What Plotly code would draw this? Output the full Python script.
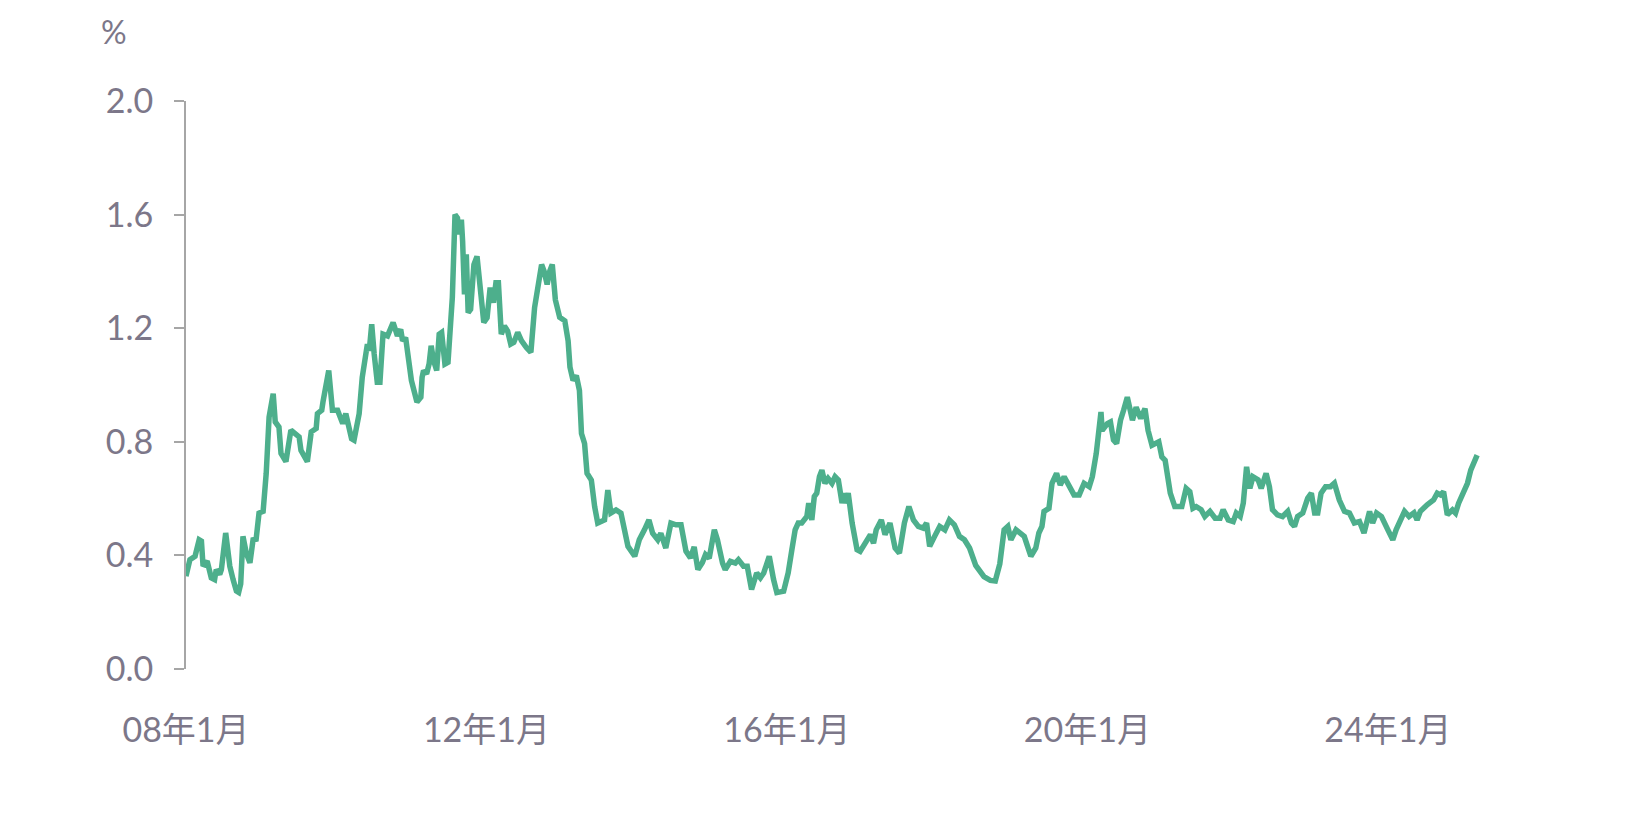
"""Line chart: ratio (%) from 2008 to 2025, recreated with Plotly."""

import plotly.graph_objects as go

# --- Data -------------------------------------------------------------------

dates = [
    "2008-01-01", "2008-01-20", "2008-02-14", "2008-03-05", "2008-03-16", "2008-03-24",
    "2008-04-13", "2008-05-03", "2008-05-19", "2008-05-27", "2008-06-13", "2008-06-21",
    "2008-07-12", "2008-08-01", "2008-08-17", "2008-09-02", "2008-09-13", "2008-09-23",
    "2008-10-04", "2008-10-20", "2008-11-07", "2008-11-22", "2008-12-07", "2008-12-21",
    "2009-01-10", "2009-01-25", "2009-02-08", "2009-02-28", "2009-03-10", "2009-03-28",
    "2009-04-07", "2009-05-01", "2009-05-25", "2009-06-10", "2009-07-04", "2009-07-13",
    "2009-07-28", "2009-08-13", "2009-09-01", "2009-09-25", "2009-10-01", "2009-10-22",
    "2009-10-28", "2009-11-25", "2009-12-13", "2010-01-07", "2010-02-01", "2010-02-16",
    "2010-03-16", "2010-03-28", "2010-04-22", "2010-05-07", "2010-05-22", "2010-06-01",
    "2010-06-10", "2010-06-22", "2010-07-04", "2010-07-19", "2010-08-01", "2010-08-16",
    "2010-09-07", "2010-09-22", "2010-10-04", "2010-10-25", "2010-11-10", "2010-11-19",
    "2010-12-04", "2010-12-19", "2011-01-01", "2011-01-28", "2011-02-16", "2011-02-22",
    "2011-03-01", "2011-03-16", "2011-03-28", "2011-04-07", "2011-04-19", "2011-05-04",
    "2011-05-16", "2011-05-28", "2011-06-13", "2011-06-28", "2011-07-07", "2011-07-19",
    "2011-08-01", "2011-08-13", "2011-08-22", "2011-09-01", "2011-09-07", "2011-09-16",
    "2011-09-25", "2011-10-04", "2011-10-16", "2011-11-01", "2011-11-16", "2011-12-01",
    "2011-12-19", "2012-01-04", "2012-01-19", "2012-02-04", "2012-02-16", "2012-02-28",
    "2012-03-13", "2012-03-28", "2012-04-13", "2012-04-28", "2012-05-13", "2012-06-01",
    "2012-06-19", "2012-07-13", "2012-08-04", "2012-08-22", "2012-09-07", "2012-09-25",
    "2012-10-07", "2012-10-22", "2012-11-04", "2012-11-16", "2012-12-01", "2012-12-22",
    "2013-01-16", "2013-02-01", "2013-02-10", "2013-02-25", "2013-03-13", "2013-03-28",
    "2013-04-07", "2013-04-22", "2013-05-04", "2013-05-25", "2013-06-10", "2013-06-25",
    "2013-07-28", "2013-08-13", "2013-08-28", "2013-09-22", "2013-10-16", "2013-11-04",
    "2013-11-19", "2013-12-22", "2014-01-13", "2014-02-07", "2014-03-01", "2014-03-19",
    "2014-04-13", "2014-04-28", "2014-05-22", "2014-06-16", "2014-07-10", "2014-08-04",
    "2014-08-28", "2014-09-19", "2014-10-07", "2014-10-25", "2014-11-16", "2014-12-01",
    "2014-12-19", "2015-01-13", "2015-01-28", "2015-02-22", "2015-03-07", "2015-04-01",
    "2015-04-25", "2015-05-10", "2015-06-04", "2015-06-22", "2015-07-13", "2015-08-07",
    "2015-08-25", "2015-09-10", "2015-10-07", "2015-10-28", "2015-11-13", "2015-12-16",
    "2016-01-07", "2016-01-25", "2016-02-10", "2016-02-25", "2016-03-13", "2016-04-07",
    "2016-04-16", "2016-05-01", "2016-05-13", "2016-05-25", "2016-06-07", "2016-06-19",
    "2016-07-04", "2016-07-19", "2016-08-07", "2016-08-22", "2016-09-07", "2016-09-25",
    "2016-10-04", "2016-10-10", "2016-10-25", "2016-11-13", "2016-12-07", "2016-12-22",
    "2017-01-16", "2017-02-10", "2017-02-25", "2017-03-10", "2017-04-04", "2017-04-22",
    "2017-05-16", "2017-06-10", "2017-07-01", "2017-07-25", "2017-08-16", "2017-09-07",
    "2017-10-01", "2017-10-25", "2017-11-10", "2017-11-25", "2017-12-19", "2018-01-13",
    "2018-02-07", "2018-03-01", "2018-03-25", "2018-04-19", "2018-05-13", "2018-06-07",
    "2018-07-07", "2018-08-16", "2018-09-16", "2018-10-10", "2018-11-01", "2018-11-22",
    "2018-12-10", "2018-12-25", "2019-01-19", "2019-02-13", "2019-02-28", "2019-03-16",
    "2019-04-01", "2019-04-25", "2019-05-10", "2019-05-25", "2019-06-04", "2019-06-28",
    "2019-07-13", "2019-08-04", "2019-08-22", "2019-09-10", "2019-10-04", "2019-10-28",
    "2019-11-22", "2019-12-16", "2020-01-10", "2020-01-25", "2020-02-13", "2020-02-28",
    "2020-03-07", "2020-03-13", "2020-04-07", "2020-04-22", "2020-05-07", "2020-05-22",
    "2020-06-10", "2020-06-25", "2020-07-13", "2020-08-07", "2020-08-25", "2020-09-16",
    "2020-10-07", "2020-10-22", "2020-11-10", "2020-12-13", "2020-12-28", "2021-01-13",
    "2021-02-07", "2021-03-01", "2021-04-04", "2021-04-25", "2021-05-13", "2021-05-28",
    "2021-06-13", "2021-07-07", "2021-07-25", "2021-08-19", "2021-09-13", "2021-10-07",
    "2021-10-22", "2021-11-16", "2021-12-10", "2021-12-25", "2022-01-13", "2022-01-28",
    "2022-02-13", "2022-03-01", "2022-03-16", "2022-04-10", "2022-04-25", "2022-05-19",
    "2022-06-04", "2022-06-19", "2022-07-13", "2022-08-07", "2022-09-01", "2022-09-19",
    "2022-10-04", "2022-10-19", "2022-11-13", "2022-12-07", "2022-12-25", "2023-01-10",
    "2023-01-25", "2023-02-10", "2023-03-04", "2023-03-28", "2023-04-16", "2023-05-10",
    "2023-06-04", "2023-06-28", "2023-07-22", "2023-08-16", "2023-09-07", "2023-10-04",
    "2023-10-19", "2023-11-07", "2023-12-01", "2024-01-01", "2024-01-25", "2024-02-10",
    "2024-03-04", "2024-03-22", "2024-04-13", "2024-05-07", "2024-05-22", "2024-06-07",
    "2024-07-10", "2024-08-10", "2024-08-28", "2024-09-13", "2024-09-28", "2024-10-16",
    "2024-11-10", "2024-11-25", "2024-12-10", "2025-01-04", "2025-01-22", "2025-02-07",
    "2025-02-19", "2025-03-01", "2025-03-10",
]

values = [
    0.327, 0.385, 0.397, 0.455, 0.450, 0.362,
    0.380, 0.321, 0.315, 0.350, 0.333, 0.350,
    0.479, 0.362, 0.315, 0.275, 0.270, 0.300,
    0.467, 0.408, 0.374, 0.455, 0.457, 0.549,
    0.555, 0.689, 0.887, 0.969, 0.870, 0.852,
    0.759, 0.730, 0.841, 0.829, 0.817, 0.770,
    0.752, 0.730, 0.835, 0.847, 0.899, 0.911,
    0.940, 1.051, 0.911, 0.911, 0.864, 0.899,
    0.811, 0.806, 0.899, 1.027, 1.097, 1.144,
    1.121, 1.214, 1.109, 1.010, 1.010, 1.179,
    1.173, 1.202, 1.220, 1.173, 1.196, 1.156,
    1.167, 1.086, 1.016, 0.940, 0.957, 1.027,
    1.051, 1.039, 1.074, 1.138, 1.086, 1.051,
    1.179, 1.185, 1.074, 1.080, 1.202, 1.308,
    1.600, 1.588, 1.530, 1.582, 1.507, 1.319,
    1.460, 1.255, 1.267, 1.424, 1.453, 1.343,
    1.220, 1.237, 1.343, 1.290, 1.360, 1.360,
    1.179, 1.208, 1.190, 1.144, 1.150, 1.185,
    1.156, 1.132, 1.115, 1.273, 1.354, 1.424,
    1.401, 1.354, 1.401, 1.424, 1.300, 1.238,
    1.226, 1.156, 1.063, 1.016, 1.033, 0.981,
    0.829, 0.794, 0.689, 0.665, 0.572, 0.514,
    0.525, 0.630, 0.549, 0.560, 0.549, 0.490,
    0.432, 0.397, 0.455, 0.490, 0.525, 0.478,
    0.455, 0.478, 0.426, 0.514, 0.508, 0.508,
    0.415, 0.391, 0.430, 0.350, 0.375, 0.403,
    0.390, 0.490, 0.455, 0.373, 0.350, 0.379,
    0.373, 0.385, 0.362, 0.362, 0.280, 0.338,
    0.321, 0.338, 0.397, 0.315, 0.269, 0.274,
    0.338, 0.420, 0.490, 0.514, 0.514, 0.537,
    0.584, 0.525, 0.607, 0.619, 0.677, 0.700,
    0.654, 0.671, 0.654, 0.677, 0.665, 0.584,
    0.619, 0.584, 0.619, 0.514, 0.420, 0.414,
    0.443, 0.473, 0.443, 0.490, 0.525, 0.473,
    0.514, 0.426, 0.408, 0.514, 0.572, 0.525,
    0.502, 0.496, 0.514, 0.432, 0.467, 0.502,
    0.490, 0.525, 0.508, 0.467, 0.455, 0.426,
    0.365, 0.325, 0.312, 0.310, 0.370, 0.490,
    0.502, 0.455, 0.490, 0.473, 0.467, 0.432,
    0.397, 0.426, 0.479, 0.502, 0.555, 0.566,
    0.654, 0.689, 0.648, 0.677, 0.648, 0.613,
    0.613, 0.654, 0.642, 0.677, 0.759, 0.852,
    0.905, 0.840, 0.864, 0.870, 0.806, 0.794,
    0.876, 0.911, 0.957, 0.876, 0.922, 0.882,
    0.917, 0.840, 0.788, 0.800, 0.747, 0.735,
    0.619, 0.572, 0.572, 0.636, 0.624, 0.566,
    0.572, 0.561, 0.537, 0.555, 0.531, 0.531,
    0.561, 0.525, 0.519, 0.549, 0.537, 0.584,
    0.712, 0.636, 0.677, 0.666, 0.636, 0.689,
    0.642, 0.561, 0.543, 0.537, 0.555, 0.514,
    0.502, 0.537, 0.549, 0.601, 0.619, 0.549,
    0.549, 0.619, 0.642, 0.642, 0.654, 0.595,
    0.555, 0.549, 0.514, 0.519, 0.479, 0.555,
    0.514, 0.549, 0.537, 0.490, 0.455, 0.490,
    0.525, 0.555, 0.537, 0.550, 0.525, 0.555,
    0.578, 0.595, 0.619, 0.613, 0.624, 0.543,
    0.560, 0.549, 0.584, 0.619, 0.654, 0.700,
    0.724, 0.747, 0.753,
]

x_tick_dates = ["2008-01-01", "2012-01-01", "2016-01-01", "2020-01-01", "2024-01-01"]
x_tick_labels = ["08年1月", "12年1月", "16年1月", "20年1月", "24年1月"]
y_ticks = [0.0, 0.4, 0.8, 1.2, 1.6, 2.0]

# --- Style -----------------------------------------------------------------

LINE_COLOR = "#4daf8c"
TEXT_COLOR = "#7c7789"
AXIS_COLOR = "#a6a6a6"
FONT = "Lato, 'Noto Sans CJK SC', sans-serif"

fig = go.Figure()
fig.add_trace(go.Scatter(
    x=dates, y=values, mode="lines",
    line=dict(color=LINE_COLOR, width=5.5),
    showlegend=False, hoverinfo="skip",
))

fig.update_layout(
    width=1627, height=838,
    margin=dict(l=178, r=97, t=93, b=177),
    paper_bgcolor="white", plot_bgcolor="white",
    font=dict(family=FONT, color=TEXT_COLOR, size=34),
    showlegend=False,
)

fig.update_xaxes(
    type="date",
    range=["2008-01-01", "2025-12-31"],
    tickvals=x_tick_dates, ticktext=x_tick_labels,
    ticks="", showline=False, showgrid=False, zeroline=False,
    tickfont=dict(size=34, color=TEXT_COLOR),
    ticklabelstandoff=38,
)

fig.update_yaxes(
    range=[0, 2.0],
    tickvals=y_ticks, tickformat=".1f",
    ticks="outside", ticklen=10, tickwidth=2, tickcolor=AXIS_COLOR,
    showline=True, linecolor=AXIS_COLOR, linewidth=2,
    showgrid=False, zeroline=False,
    tickfont=dict(size=34, color=TEXT_COLOR),
    ticklabelstandoff=14,
)

fig.add_annotation(
    text="%", xref="paper", yref="paper",
    x=-0.053, y=1.122, xanchor="center", yanchor="middle",
    showarrow=False, font=dict(size=32, color=TEXT_COLOR),
)

fig.write_html("out.html")
